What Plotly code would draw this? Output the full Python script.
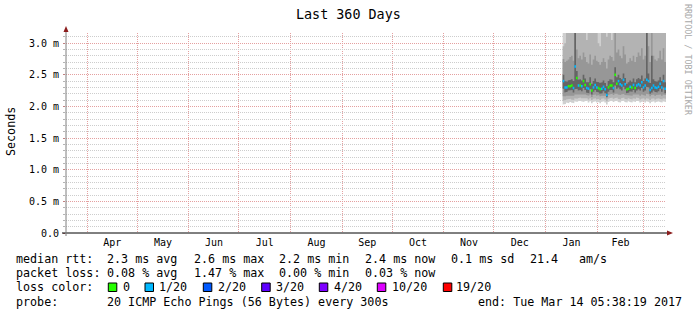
import plotly.graph_objects as go
import pandas as pd

# ---------------- data ----------------
x_start = "2016-03-19 05:38:19"
x_end = "2017-03-14 05:38:19"
smoke_start = "2017-01-11 05:38:19"   # first daily column (62 days)

month_tick0 = "2016-01-01"

y_tickvals = [0.0, 0.5, 1.0, 1.5, 2.0, 2.5, 3.0]
y_ticktext = ["0.0", "0.5 m", "1.0 m", "1.5 m", "2.0 m", "2.5 m", "3.0 m"]
y_minorvals = [0.1, 0.2, 0.3, 0.4, 0.6, 0.7, 0.8, 0.9, 1.1, 1.2, 1.3, 1.4,
               1.6, 1.7, 1.8, 1.9, 2.1, 2.2, 2.3, 2.4, 2.6, 2.7, 2.8, 2.9,
               3.1]

# median rtt (ms) per day
median_ms = [2.40, 2.30, 2.30, 2.32, 2.32, 2.33, 2.29, 2.63, 2.45, 2.33,
             2.33, 2.32, 2.40, 2.34, 2.29, 2.28, 2.35, 2.25, 2.30, 2.34,
             2.30, 2.29, 2.27, 2.28, 2.31, 2.27, 2.18, 2.30, 2.33, 2.33,
             2.29, 2.50, 2.36, 2.40, 2.35, 2.33, 2.42, 2.35, 2.27, 2.28,
             2.31, 2.30, 2.34, 2.29, 2.33, 2.35, 2.33, 2.38, 2.30, 2.33,
             2.42, 2.40, 2.26, 2.29, 2.33, 2.30, 2.29, 2.31, 2.36, 2.30,
             2.40, 2.28]
# lost pings (of 20) per day
lost_pings = [1, 1, 1, 0, 0, 0, 1, 1, 0, 1,
              0, 1, 0, 0, 1, 1, 0, 0, 1, 1,
              1, 0, 0, 1, 1, 1, 1, 0, 0, 0,
              1, 0, 0, 1, 1, 1, 1, 1, 0, 0,
              1, 0, 1, 0, 1, 1, 1, 1, 1, 1,
              1, 1, 1, 1, 1, 1, 1, 1, 1, 1,
              1, 1]

# smoke: nested ping-rank bands (ms), outer -> inner
band1_lo = [2.03, 2.04, 2.06, 2.05, 2.07, 2.06, 2.05, 2.08, 2.07, 2.08,
            2.09, 2.08, 2.07, 2.08, 2.09, 2.06, 2.08, 2.05, 2.07, 2.08,
            2.06, 2.07, 2.05, 2.07, 2.08, 2.06, 2.03, 2.07, 2.08, 2.09,
            2.07, 2.08, 2.09, 2.07, 2.06, 2.08, 2.09, 2.07, 2.06, 2.08,
            2.07, 2.06, 2.08, 2.07, 2.09, 2.08, 2.06, 2.07, 2.08, 2.06,
            2.08, 2.07, 2.05, 2.07, 2.08, 2.06, 2.07, 2.08, 2.07, 2.06,
            2.08, 2.07]
band1_hi = [3.9, 3.9, 3.9, 4.0, 4.0, 3.9, 3.9, 4.0, 4.0, 3.9,
            3.9, 3.9, 4.0, 3.9, 3.9, 3.9, 4.0, 3.9, 3.9, 4.0,
            3.9, 3.9, 3.9, 3.9, 4.0, 3.9, 3.9, 3.9, 4.0, 3.9,
            3.9, 4.0, 4.0, 4.0, 3.9, 3.9, 4.0, 4.0, 3.9, 3.9,
            3.9, 3.9, 4.0, 3.9, 3.9, 4.0, 3.9, 4.0, 3.9, 4.0,
            4.0, 4.0, 3.9, 4.0, 3.9, 3.9, 3.9, 3.9, 4.0, 3.9,
            4.0, 3.9]
band2_lo = [2.09, 2.10, 2.11, 2.11, 2.12, 2.11, 2.10, 2.13, 2.12, 2.13,
            2.14, 2.13, 2.12, 2.13, 2.13, 2.11, 2.13, 2.10, 2.12, 2.13,
            2.11, 2.12, 2.10, 2.12, 2.13, 2.11, 2.08, 2.12, 2.13, 2.14,
            2.12, 2.13, 2.14, 2.12, 2.11, 2.13, 2.14, 2.12, 2.11, 2.13,
            2.12, 2.11, 2.13, 2.12, 2.14, 2.13, 2.11, 2.12, 2.13, 2.11,
            2.13, 2.12, 2.10, 2.12, 2.13, 2.11, 2.12, 2.13, 2.12, 2.11,
            2.13, 2.12]
band2_hi = [2.95, 3.00, 3.30, 3.40, 3.40, 3.30, 3.25, 3.80, 3.50, 3.30,
            3.35, 3.30, 3.40, 3.20, 3.05, 3.30, 3.40, 3.30, 3.25, 3.40,
            3.30, 3.00, 2.95, 3.30, 3.35, 3.25, 3.10, 3.30, 3.40, 3.05,
            3.30, 3.50, 3.40, 3.45, 3.30, 3.35, 3.50, 3.40, 3.25, 3.30,
            3.35, 3.30, 3.40, 3.20, 3.35, 3.40, 3.35, 3.45, 3.30, 3.40,
            3.80, 3.50, 3.30, 3.60, 3.35, 3.25, 3.30, 3.35, 3.45, 3.30,
            3.40, 3.30]
band3_lo = [2.16, 2.16, 2.17, 2.18, 2.18, 2.18, 2.17, 2.19, 2.19, 2.19,
            2.20, 2.19, 2.19, 2.19, 2.18, 2.17, 2.19, 2.15, 2.18, 2.19,
            2.17, 2.18, 2.16, 2.17, 2.18, 2.17, 2.13, 2.18, 2.19, 2.20,
            2.18, 2.20, 2.20, 2.19, 2.18, 2.19, 2.20, 2.18, 2.17, 2.18,
            2.18, 2.17, 2.19, 2.18, 2.19, 2.19, 2.17, 2.19, 2.18, 2.17,
            2.20, 2.19, 2.16, 2.18, 2.19, 2.17, 2.18, 2.19, 2.19, 2.17,
            2.19, 2.18]
band3_hi = [2.75, 2.70, 2.72, 2.74, 2.78, 2.80, 2.72, 3.70, 2.90, 2.76,
            2.80, 2.74, 2.85, 2.78, 2.70, 2.68, 2.82, 2.66, 2.74, 2.80,
            2.72, 2.70, 2.66, 2.70, 2.76, 2.70, 2.60, 2.74, 2.80, 2.78,
            2.72, 3.40, 2.85, 2.90, 2.80, 2.76, 2.95, 2.82, 2.68, 2.70,
            2.76, 2.72, 2.80, 2.70, 2.78, 2.85, 2.80, 2.92, 2.74, 2.80,
            3.70, 2.95, 2.70, 3.30, 2.80, 2.74, 2.72, 2.76, 2.88, 2.74,
            2.92, 2.70]
band4_lo = [2.28, 2.22, 2.23, 2.25, 2.25, 2.26, 2.22, 2.27, 2.28, 2.25,
            2.26, 2.24, 2.29, 2.26, 2.22, 2.21, 2.27, 2.19, 2.23, 2.26,
            2.23, 2.22, 2.20, 2.21, 2.24, 2.21, 2.15, 2.23, 2.26, 2.26,
            2.22, 2.33, 2.28, 2.30, 2.27, 2.25, 2.31, 2.27, 2.21, 2.22,
            2.24, 2.23, 2.26, 2.22, 2.25, 2.27, 2.25, 2.29, 2.23, 2.25,
            2.31, 2.30, 2.20, 2.22, 2.25, 2.23, 2.22, 2.24, 2.28, 2.23,
            2.30, 2.21]
band4_hi = [2.50, 2.40, 2.39, 2.41, 2.42, 2.43, 2.40, 3.60, 2.56, 2.42,
            2.43, 2.41, 2.50, 2.44, 2.38, 2.38, 2.46, 2.36, 2.40, 2.44,
            2.39, 2.38, 2.37, 2.38, 2.41, 2.37, 2.32, 2.40, 2.43, 2.42,
            2.38, 2.62, 2.46, 2.50, 2.45, 2.43, 2.52, 2.45, 2.36, 2.38,
            2.41, 2.39, 2.44, 2.38, 2.43, 2.45, 2.43, 2.49, 2.40, 2.44,
            3.60, 2.52, 2.37, 2.80, 2.43, 2.40, 2.39, 2.41, 2.46, 2.40,
            2.50, 2.38]

bands = [(band1_lo, band1_hi, "#cfcfcf"),
         (band2_lo, band2_hi, "#b3b3b3"),
         (band3_lo, band3_hi, "#979797"),
         (band4_lo, band4_hi, "#656565")]

loss_colors = {0: "#26ff00", 1: "#00b8ff"}
legend_loss = [("0", "#26ff00"), ("1/20", "#00b8ff"), ("2/20", "#0059ff"),
               ("3/20", "#5e00ff"), ("4/20", "#7e00ff"), ("10/20", "#dd00ff"),
               ("19/20", "#ff0000")]

# ---------------- layout geometry ----------------
W, H = 697, 315
L, R, T, B = 66, 31, 33, 82
PW, PH = W - L - R, H - T - B
FONT = "DejaVu Sans Mono"
Y_RANGE = [0, 3.16]


def px(x):
    return (x - L) / PW


def py(y):
    return (H - B - y) / PH


n = len(median_ms)
edges = pd.date_range(smoke_start, periods=n + 1, freq="D")

fig = go.Figure()

for lo, hi, col in bands:
    xs, ys = [], []
    for i in range(n):
        xs += [edges[i], edges[i + 1]]
        ys += [hi[i], hi[i]]
    for i in reversed(range(n)):
        xs += [edges[i + 1], edges[i]]
        ys += [lo[i], lo[i]]
    fig.add_trace(go.Scatter(x=xs, y=ys, mode="lines", fill="toself",
                             fillcolor=col, line=dict(width=0, color=col),
                             hoverinfo="skip"))

for cnt, col in loss_colors.items():
    xs, ys = [], []
    for i in range(n):
        if lost_pings[i] == cnt:
            xs += [edges[i], edges[i + 1], None]
            ys += [median_ms[i], median_ms[i], None]
    fig.add_trace(go.Scatter(x=xs, y=ys, mode="lines", connectgaps=False,
                             line=dict(width=2.5, color=col), hoverinfo="skip"))

# invisible trace to activate the overlaid (major grid / label) axis
fig.add_trace(go.Scatter(x=[x_start], y=[0], yaxis="y2", mode="markers",
                         marker=dict(size=1, opacity=0), hoverinfo="skip"))

ann = []


def txt(s, x, y, size=11.7, color="black", xanchor="left", angle=0):
    ann.append(dict(text=s.replace(" ", "\u00a0"), x=px(x), y=py(y),
                    xref="paper", yref="paper", showarrow=False,
                    xanchor=xanchor, yanchor="middle", textangle=angle,
                    font=dict(family=FONT, size=size, color=color),
                    borderpad=0, borderwidth=0))


txt("Last 360 Days", 348.5, 14, size=13.4, xanchor="center")
txt("Seconds", 11, 132, size=11.7, xanchor="center", angle=-90)
txt("RRDTOOL / TOBI OETIKER", 688, 60, size=8.4, color="#a8a8a8",
    xanchor="center", angle=90)

row1 = [("median rtt:", 16.0), ("2.3 ms avg", 106.5), ("2.6 ms max", 193.5),
        ("2.2 ms min", 278.5), ("2.4 ms now", 365.0), ("0.1 ms sd", 451.0),
        ("21.4", 530.0), ("am/s", 578.6)]
row2 = [("packet loss:", 16.0), ("0.08 % avg", 106.5), ("1.47 % max", 193.5),
        ("0.00 % min", 278.5), ("0.03 % now", 365.0)]
row4 = [("probe:", 16.0), ("20 ICMP Echo Pings (56 Bytes) every 300s", 106.5),
        ("end: Tue Mar 14 05:38:19 2017", 477.6)]
for s, x in row1:
    txt(s, x, 259)
for s, x in row2:
    txt(s, x, 273.3)
txt("loss color:", 16.0, 287.3)
for s, x in row4:
    txt(s, x, 301.7)

swatch_x = [108.3, 145.0, 203.3, 261.7, 319.3, 377.3, 443.3]
label_x = [122.6, 159.3, 217.6, 276.0, 333.6, 391.6, 456.0]
shapes = []
for (lab, col), sx, lx in zip(legend_loss, swatch_x, label_x):
    shapes.append(dict(type="rect", xref="paper", yref="paper",
                       x0=px(sx), x1=px(sx + 8.5), y0=py(291.5), y1=py(283),
                       fillcolor=col, line=dict(color="black", width=1)))
    txt(lab, lx, 287.3)

# axes lines and arrows
shapes.append(dict(type="line", xref="paper", yref="paper", x0=px(62), x1=px(668),
                   y0=0, y1=0, line=dict(color="black", width=1)))
shapes.append(dict(type="line", xref="paper", yref="paper", x0=0, x1=0,
                   y0=py(236), y1=py(31), line=dict(color="#7f7f7f", width=1)))
shapes.append(dict(type="path", xref="paper", yref="paper",
                   path=f"M {px(63.5)} {py(32)} L {px(66)} {py(26)} L {px(68.5)} {py(32)} Z",
                   fillcolor="#8b1c1c", line=dict(width=0)))
shapes.append(dict(type="path", xref="paper", yref="paper",
                   path=f"M {px(667)} {py(230.5)} L {px(673)} {py(233)} L {px(667)} {py(235.5)} Z",
                   fillcolor="#8b1c1c", line=dict(width=0)))

fig.update_layout(
    width=W, height=H, margin=dict(l=L, r=R, t=T, b=B, pad=0),
    paper_bgcolor="white", plot_bgcolor="white", showlegend=False,
    annotations=ann, shapes=shapes,
    font=dict(family=FONT, size=10, color="black"),
    xaxis=dict(
        type="date", range=[x_start, x_end], tickmode="linear", tick0=month_tick0,
        dtick="M1", ticklabelmode="period", tickformat="%b", showgrid=True,
        gridcolor="#e4a0a0", griddash="1px,1px", gridwidth=1, zeroline=False,
        showline=False, ticks="", tickfont=dict(family=FONT, size=10, color="black"),
        ticklabelstandoff=2,
    ),
    yaxis=dict(
        range=Y_RANGE, tickmode="array", tickvals=y_minorvals,
        showticklabels=False, showgrid=True, gridcolor="#cdcdcd",
        griddash="1px,1px", gridwidth=1, zeroline=False, showline=False,
        ticks="outside", ticklen=2, tickcolor="#b4b4b4",
    ),
    yaxis2=dict(
        range=Y_RANGE, overlaying="y", side="left", anchor="x",
        tickmode="array", tickvals=y_tickvals, ticktext=y_ticktext,
        showgrid=True, gridcolor="#e4a0a0", griddash="1px,1px", gridwidth=1,
        zeroline=False, showline=False, ticks="outside", ticklen=2,
        tickcolor="#c08080", tickfont=dict(family=FONT, size=10, color="black"),
        ticklabelstandoff=2,
    ),
)

fig.write_html("out.html")
